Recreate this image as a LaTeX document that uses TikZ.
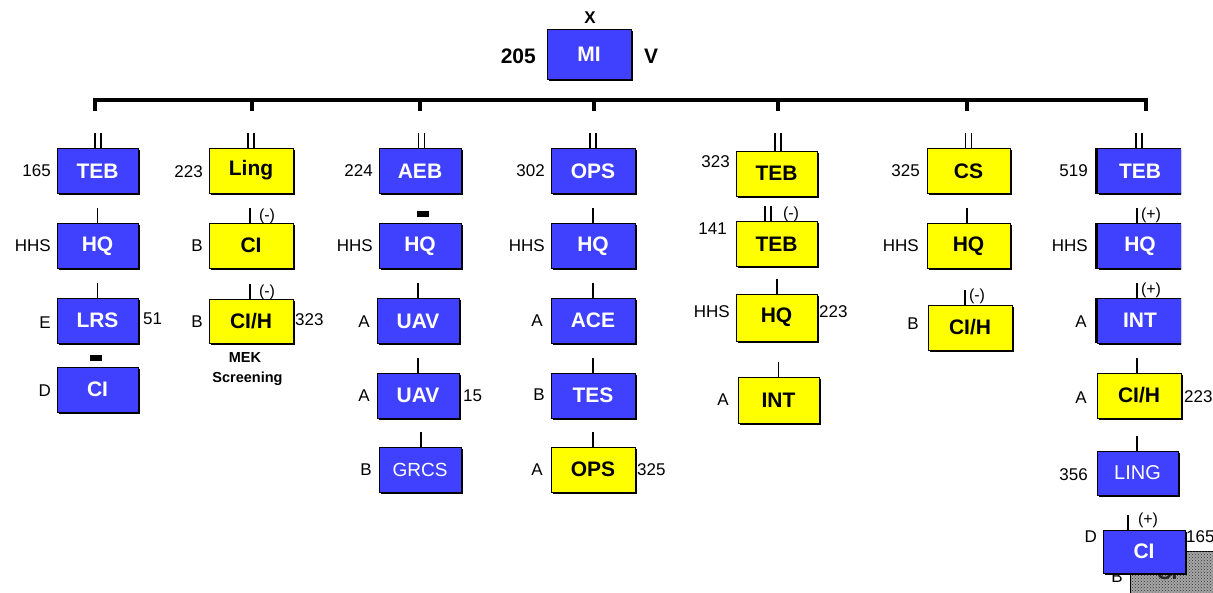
\documentclass[tikz,border=0pt]{standalone}
\usepackage{fontspec}
\setmainfont{Liberation Sans}
\usetikzlibrary{shadows,patterns}
\definecolor{ublue}{RGB}{64,64,255}
\definecolor{uyel}{RGB}{255,255,0}
\newcommand\twobars[2][0pt]{%
  \draw[sym] ([xshift=#1-3pt]#2.north) -- ++(0pt,15pt);
  \draw[sym] ([xshift=#1+3pt]#2.north) -- ++(0pt,15pt);}
\newcommand\onebar[2][0pt]{\draw[sym] ([xshift=#1]#2.north) -- ++(0pt,15pt);}
\newcommand\teamsym[2][0pt]{\fill ([xshift=#1-6pt,yshift=6pt]#2.north) rectangle ++(12pt,6pt);}
\begin{document}
\begin{tikzpicture}[x=1pt,y=-1pt,
  box/.style={draw=black, line width=0.9pt, minimum width=83pt, minimum height=45pt, inner sep=0pt,
    general shadow={shadow xshift=1.6pt, shadow yshift=-1.6pt, fill=black}},
  bbox/.style={box, fill=ublue, text=white, font=\bfseries\fontsize{21}{21}\selectfont},
  ybox/.style={box, fill=uyel, text=black, font=\bfseries\fontsize{21}{21}\selectfont},
  lbox/.style={box, fill=ublue, text=white, font=\fontsize{19}{19}\selectfont},
  lab/.style={inner sep=0pt, font=\fontsize{17}{17}\selectfont},
  blab/.style={inner sep=0pt, font=\bfseries\fontsize{21}{21}\selectfont},
  mod/.style={inner sep=0pt, font=\fontsize{16}{16}\selectfont},
  note/.style={inner sep=0pt, font=\bfseries\fontsize{14.5}{14.5}\selectfont},
  sym/.style={line width=1.8pt},
  bus/.style={line width=4pt},
]
\useasboundingbox (0,0) rectangle (1213,592);

% top
\node[bbox, minimum width=84pt, minimum height=50pt] (mi) at (589,54) {MI};
\node[inner sep=0pt, font=\bfseries\fontsize{17}{17}\selectfont] (x) at (590,18) {X};
\node[blab, anchor=east] (n205) at (536,56) {205};
\node[blab] (v) at (651,56) {V};

% bus
\coordinate (busL) at (93,100);
\coordinate (busR) at (1148,100);
\draw[bus] (busL) -- (busR);
\foreach \tx in {95,251.5,420,594,778,967,1146}
  \draw[bus] (\tx,98) -- (\tx,111);

% column 1
\node[bbox, minimum width=81pt] (teb1) at (97.5,171) {TEB};
\node[bbox, minimum width=81pt] (hq1) at (97.5,246) {HQ};
\node[bbox, minimum width=81pt] (lrs1) at (97.5,320.5) {LRS};
\node[bbox, minimum width=81pt] (ci1) at (97.5,389.5) {CI};
\twobars[0.5pt]{teb1}
\onebar{hq1}
\onebar{lrs1}
\teamsym[-1.5pt]{ci1}
\node[lab, anchor=east] (l165) at (51,171) {165};
\node[lab, anchor=east] (lhhs1) at (51,246) {HHS};
\node[lab, anchor=east] (le1) at (51,323) {E};
\node[lab, anchor=west] (l51) at (143,319) {51};
\node[lab, anchor=east] (ld1) at (51,391) {D};

% column 2
\node[ybox, minimum width=84pt] (ling2) at (251,170.5) {Ling};
\node[ybox, minimum width=84pt] (ci2) at (251,245.5) {CI};
\node[ybox, minimum width=84pt, minimum height=44pt] (cih2) at (251,321.5) {CI/H};
\twobars{ling2}
\onebar[-1pt]{ci2}
\node[mod] (m2a) at (267,216) {(-)};
\onebar[-1pt]{cih2}
\node[mod] (m2b) at (267,292) {(-)};
\node[lab, anchor=east] (l223) at (203,172) {223};
\node[lab, anchor=east] (lb2a) at (203,246) {B};
\node[lab, anchor=east] (lb2b) at (203,322) {B};
\node[lab, anchor=west] (l323a) at (295,320) {323};
\node[note] (mek) at (245,358) {MEK};
\node[note] (scr) at (247.5,379) {Screening};

% column 3
\node[bbox, minimum width=82pt] (aeb3) at (420,171) {AEB};
\node[bbox, minimum width=82pt] (hq3) at (420,246) {HQ};
\node[bbox, minimum width=82pt] (uav3a) at (418,321) {UAV};
\node[bbox, minimum width=82pt] (uav3b) at (418,395.5) {UAV};
\node[lbox, minimum width=82pt] (grcs3) at (420,469.5) {GRCS};
\twobars[1.5pt]{aeb3}
\teamsym[3pt]{hq3}
\onebar{uav3a}
\onebar{uav3b}
\onebar[1pt]{grcs3}
\node[lab, anchor=east] (l224) at (373,171) {224};
\node[lab, anchor=east] (lhhs3) at (373,246) {HHS};
\node[lab, anchor=east] (la3a) at (370,322) {A};
\node[lab, anchor=east] (la3b) at (370,396) {A};
\node[lab, anchor=west] (l15) at (463,396) {15};
\node[lab, anchor=east] (lb3) at (372,470) {B};

% column 4
\node[bbox, minimum width=84pt] (ops4) at (593,171) {OPS};
\node[bbox, minimum width=84pt] (hq4) at (593,246) {HQ};
\node[bbox, minimum width=84pt] (ace4) at (593,320.5) {ACE};
\node[bbox, minimum width=84pt] (tes4) at (593,395.5) {TES};
\node[ybox, minimum width=84pt] (ops4b) at (593,469.5) {OPS};
\twobars{ops4}
\onebar{hq4}
\onebar{ace4}
\onebar{tes4}
\onebar{ops4b}
\node[lab, anchor=east] (l302) at (545,171) {302};
\node[lab, anchor=east] (lhhs4) at (545,246) {HHS};
\node[lab, anchor=east] (la4a) at (543,321) {A};
\node[lab, anchor=east] (lb4) at (545,395) {B};
\node[lab, anchor=east] (la4b) at (543,470) {A};
\node[lab, anchor=west] (l325a) at (637,470) {325};

% column 5
\node[ybox, minimum width=81pt] (teb5a) at (776.5,173.5) {TEB};
\node[ybox, minimum width=81pt] (teb5b) at (776.5,244) {TEB};
\node[ybox, minimum width=81pt, minimum height=47pt] (hq5) at (776.5,317.5) {HQ};
\node[ybox, minimum width=81pt, minimum height=46pt] (int5) at (778.5,400) {INT};
\draw[sym] ([xshift=-1.5pt]teb5a.north) -- ++(0pt,18pt);
\draw[sym] ([xshift=4.5pt]teb5a.north) -- ++(0pt,18pt);
\twobars[-8.5pt]{teb5b}
\node[mod] (m5) at (791,214) {(-)};
\onebar[0.5pt]{hq5}
\onebar{int5}
\node[lab, anchor=east] (l323b) at (730,162) {323};
\node[lab, anchor=east] (l141) at (727,229) {141};
\node[lab, anchor=east] (lhhs5) at (730,312) {HHS};
\node[lab, anchor=west] (l223b) at (819,312) {223};
\node[lab, anchor=east] (la5) at (729,400) {A};

% column 6
\node[ybox, minimum width=83pt] (cs6) at (968.5,171) {CS};
\node[ybox, minimum width=83pt] (hq6) at (968.5,246) {HQ};
\node[ybox, minimum width=84pt] (cih6) at (970,327.5) {CI/H};
\twobars{cs6}
\onebar[-1.5pt]{hq6}
\onebar[-5pt]{cih6}
\node[mod] (m6) at (977,296) {(-)};
\node[lab, anchor=east] (l325b) at (920,171) {325};
\node[lab, anchor=east] (lhhs6) at (919,246) {HHS};
\node[lab, anchor=east] (lb6) at (919,324) {B};

% column 7
\begin{scope}
\clip (0,0) rectangle (1181,592);
\node[bbox, minimum width=86pt] (teb7) at (1140,171) {TEB};
\node[bbox, minimum width=86pt] (hq7) at (1140,246) {HQ};
\node[bbox, minimum width=86pt] (int7) at (1140,320.5) {INT};
\end{scope}
\draw[line width=2.2pt] (teb7.north west) -- (teb7.south west);
\draw[line width=2.2pt] (hq7.north west) -- (hq7.south west);
\draw[line width=2.2pt] (int7.north west) -- (int7.south west);
\node[ybox, minimum width=84pt] (cih7) at (1139,395.5) {CI/H};
\node[lbox, minimum width=81pt, minimum height=44pt, font=\fontsize{20}{20}\selectfont] (ling7) at (1137.5,473) {LING};
\twobars[-1pt]{teb7}
\onebar[-3pt]{hq7}
\node[mod] (m7a) at (1151,215) {(+)};
\onebar[-3pt]{int7}
\node[mod] (m7b) at (1151,290) {(+)};
\onebar[-2pt]{cih7}
\onebar[-0.5pt]{ling7}
\node[lab, anchor=east] (l519) at (1088,171) {519};
\node[lab, anchor=east] (lhhs7) at (1088,246) {HHS};
\node[lab, anchor=east] (la7a) at (1087,322) {A};
\node[lab, anchor=east] (la7b) at (1087,398) {A};
\node[lab, anchor=west] (l223c) at (1184,397) {223};
\node[lab, anchor=east] (l356) at (1088,475) {356};

% hatched box behind
\node[draw=black, line width=1pt, fill=gray!70, postaction={pattern=crosshatch dots, pattern color=black!80},
  minimum width=90pt, minimum height=50pt, inner sep=0pt, anchor=north west] (hat) at (1130,551) {};
\node[blab, text=black!85] (hatci) at (1167,572) {CI};
\node[lab] (lb7) at (1117,577) {B};

\node[bbox, minimum width=82pt, minimum height=43pt] (ci7) at (1144,551.5) {CI};
\onebar[-16pt]{ci7}
\node[mod] (m7c) at (1148,520) {(+)};
\node[lab, anchor=east] (ld7) at (1097,537) {D};
\node[lab, anchor=west] (l165b) at (1186,537) {165};
\end{tikzpicture}
\end{document}
